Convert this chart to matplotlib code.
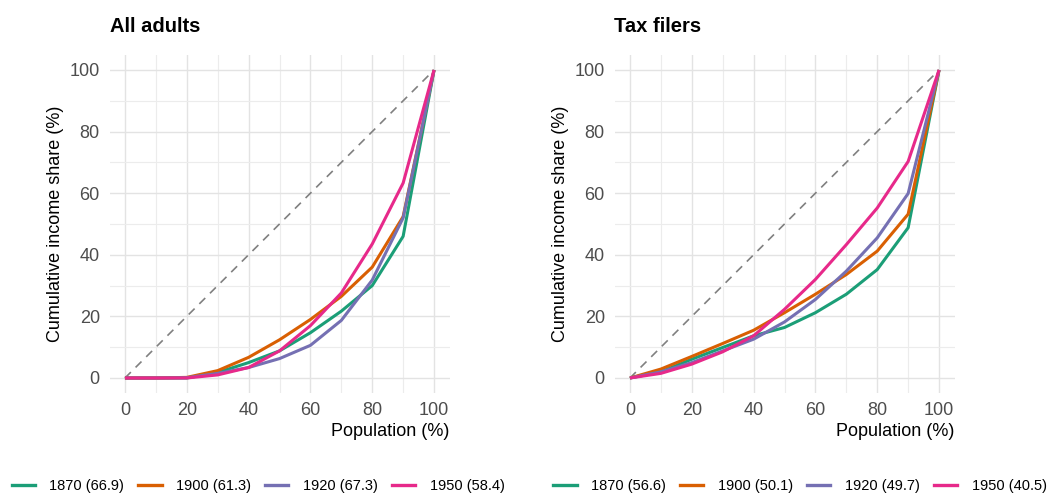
import matplotlib
matplotlib.use("Agg")
import matplotlib.pyplot as plt
from matplotlib.lines import Line2D
import numpy as np

plt.rcParams['font.family'] = ['Liberation Sans', 'DejaVu Sans']

population = [0, 10, 20, 30, 40, 50, 60, 70, 80, 90, 100]
years = ["1870", "1900", "1920", "1950"]
colors = ["#1B9E77", "#D95F02", "#7570B3", "#E7298A"]

# All adults
adults_1870 = [0, 0, 0, 1.8, 5.0, 8.8, 14.7, 21.7, 30.0, 46.0, 100]
adults_1900 = [0, 0, 0.2, 2.4, 6.7, 12.4, 19.0, 26.5, 36.0, 52.4, 100]
adults_1920 = [0, 0, 0.1, 1.5, 3.4, 6.3, 10.6, 18.7, 31.8, 52.0, 100]
adults_1950 = [0, 0, 0, 1.0, 3.4, 8.8, 17.0, 27.6, 43.5, 63.3, 100]
adults_gini = ["66.9", "61.3", "67.3", "58.4"]

# Tax filers
filers_1870 = [0, 2.0, 6.1, 9.9, 13.7, 16.4, 21.2, 27.2, 35.2, 48.8, 100]
filers_1900 = [0, 2.9, 7.0, 11.2, 15.5, 21.2, 27.2, 33.6, 41.2, 53.2, 100]
filers_1920 = [0, 2.0, 5.0, 8.8, 12.6, 18.2, 25.5, 34.7, 45.5, 59.9, 100]
filers_1950 = [0, 1.5, 4.5, 8.5, 13.7, 22.3, 32.0, 43.3, 55.2, 70.3, 100]
filers_gini = ["56.6", "50.1", "49.7", "40.5"]

W, H = 1059, 495
fig = plt.figure(figsize=(W / 100, H / 100), dpi=100)

def px_axes(x0, x1, ytop, ybot):
    return fig.add_axes([x0 / W, 1 - ybot / H, (x1 - x0) / W, (ybot - ytop) / H])

panels = [
    ("All adults", [adults_1870, adults_1900, adults_1920, adults_1950], adults_gini, 109.5, 258),
    ("Tax filers", [filers_1870, filers_1900, filers_1920, filers_1950], filers_gini, 614.5, 800),
]

for title, series, gini, x0, legx in panels:
    ax = px_axes(x0, x0 + 340, 54.6, 393.4)
    ax.set_xlim(-5, 105)
    ax.set_ylim(-5, 105)
    ax.set_xticks(np.arange(0, 101, 20))
    ax.set_yticks(np.arange(0, 101, 20))
    ax.set_xticks(np.arange(10, 100, 20), minor=True)
    ax.set_yticks(np.arange(10, 100, 20), minor=True)
    ax.grid(which='major', color='#e3e3e3', linewidth=1.0)
    ax.grid(which='minor', color='#ececec', linewidth=0.8)
    ax.set_axisbelow(True)
    for s in ax.spines.values():
        s.set_visible(False)
    ax.tick_params(which='both', length=0)
    ax.tick_params(axis='y', pad=7, labelsize=13, labelcolor='#4d4d4d')
    ax.tick_params(axis='x', pad=6, labelsize=13, labelcolor='#4d4d4d')
    ax.plot([0, 100], [0, 100], color='#808080', linestyle=(0, (5, 4)), linewidth=1.2)
    handles = []
    for vals, c, y, g in zip(series, colors, years, gini):
        ax.plot(population, vals, color=c, linewidth=2.2, solid_capstyle='butt')
        handles.append(Line2D([], [], color=c, linewidth=2.4, label=f"{y} ({g})"))
    ax.set_xlabel("Population (%)", fontsize=13, loc='right', labelpad=3)
    ax.set_ylabel("Cumulative income share (%)", fontsize=13, labelpad=4)
    ax.set_title(title, fontsize=14.5, fontweight='bold', loc='left', pad=16)
    fig.legend(handles=handles, loc='center', bbox_to_anchor=(legx / W, 1 - 486 / H),
               ncol=4, frameon=False, fontsize=10.5, handlelength=1.6, handletextpad=1.0,
               columnspacing=0.95, borderaxespad=0, borderpad=0)

fig.savefig("out.png", dpi=100)
